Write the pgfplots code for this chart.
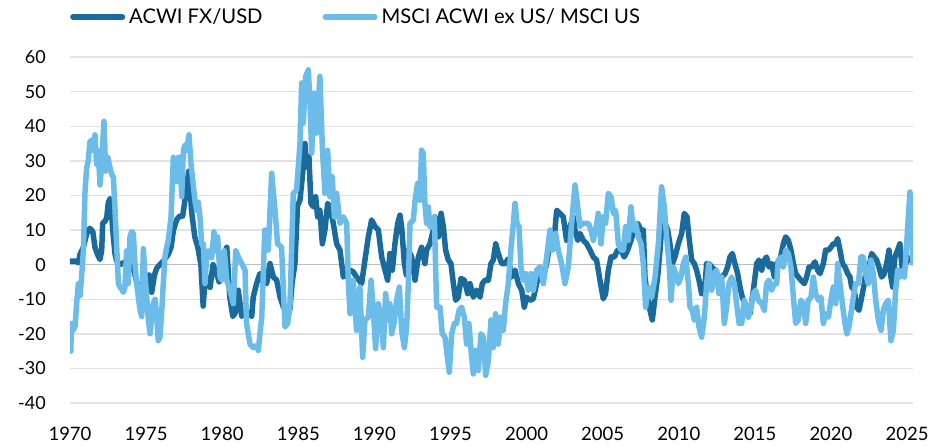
\documentclass[border=0pt]{standalone}
\usepackage{fontspec}
\setmainfont{Lato}
\usepackage{pgfplots}
\pgfplotsset{compat=1.18}
\definecolor{darkb}{HTML}{1A6B9B}
\definecolor{lightb}{HTML}{6CBCE9}
\definecolor{gridc}{HTML}{E3E3E3}
\definecolor{zeroc}{HTML}{BDBDBD}
\begin{document}
\begin{tikzpicture}
\path[use as bounding box] (-70pt,-44pt) rectangle (881pt,403pt);
\begin{axis}[
 scale only axis, width=843pt, height=346pt,
 xmin=1970, xmax=2025.39, ymin=-40, ymax=60,
 xtick={1970,1975,...,2025}, ytick={-40,-30,...,60},
 axis line style={draw=none}, major tick length=0pt,
 ymajorgrids, major grid style={gridc, line width=1.4pt},
 extra y ticks={0}, extra y tick labels={},
 extra y tick style={major grid style={zeroc, line width=1.6pt}},
 /pgf/number format/assume math mode=true,
 /pgf/number format/1000 sep={},
 x tick label style={font=\fontsize{18.5}{20}\selectfont, inner sep=0pt, anchor=north, yshift=-24pt},
 y tick label style={font=\fontsize{18}{20}\selectfont, inner sep=0pt, anchor=east, xshift=-24pt},
 legend columns=2,
 legend style={draw=none, fill=none, at={(0,1)}, anchor=west, yshift=40pt, inner sep=0pt,
   nodes={inner sep=0pt, anchor=west}, font=\fontsize{20.2}{22}\selectfont,
   /tikz/every odd column/.append style={column sep=4pt},
   /tikz/every even column/.append style={column sep=60pt}},
 legend image code/.code={\draw[#1, line cap=round] (2.75pt,0pt) -- (52.25pt,0pt);},
]
\addplot[darkb, line width=5.5pt, line join=round] table {
x y
1970.00 1
1970.20 1
1970.44 1
1970.55 0.5
1970.66 3
1970.88 5
1971.10 9
1971.30 10.5
1971.50 9.5
1971.64 5
1971.80 3
1971.97 1.5
1972.08 4
1972.15 12
1972.30 12.5
1972.41 13.5
1972.52 18
1972.63 19
1972.74 14
1972.85 8
1972.96 3
1973.07 1
1973.29 0
1973.50 0.5
1973.72 1
1973.94 0
1974.16 -1
1974.38 -5
1974.60 -8
1974.82 -9
1975.04 -8
1975.20 -3
1975.37 -8
1975.55 -3
1975.70 -1
1975.91 0
1976.13 1
1976.30 2
1976.46 3
1976.64 5
1976.80 10
1977.01 13
1977.20 14
1977.40 14
1977.60 20
1977.80 27
1978.00 15
1978.20 8
1978.40 5
1978.60 0
1978.75 -12
1978.90 -3
1979.20 -6.6
1979.40 0
1979.60 -2
1979.80 -5
1980.10 3
1980.30 5
1980.50 -9.5
1980.70 -15
1980.85 -14
1981.06 -7.4
1981.28 -15
1981.50 -13
1981.72 -14
1981.94 -15
1982.04 -9.4
1982.26 -5.5
1982.48 -2.6
1982.70 -4.5
1982.92 -5.5
1983.14 0.3
1983.36 -3.6
1983.58 -4.5
1983.80 -9.4
1984.02 -12.3
1984.23 -13
1984.45 -13
1984.60 -5
1984.78 0.3
1984.95 17
1985.11 18.6
1985.33 28.3
1985.44 35
1985.55 28.3
1985.70 31.2
1985.83 17.7
1985.99 16.7
1986.14 19.6
1986.27 13.8
1986.42 15.7
1986.58 6
1986.75 10
1986.93 17.7
1987.08 16.7
1987.30 11.9
1987.52 6
1987.74 4.2
1987.96 -3.6
1988.18 -2.6
1988.40 -1.6
1988.61 -2.1
1988.83 -3.6
1989.16 -5.5
1989.38 1.3
1989.60 8
1989.82 12.9
1990.04 11
1990.26 10
1990.48 2.2
1990.70 -1.6
1990.87 -4.5
1991.02 3.2
1991.18 -1.6
1991.35 6
1991.53 11.9
1991.68 14.3
1991.79 11
1991.97 0.3
1992.10 -3
1992.23 4.2
1992.45 2.2
1992.67 -4.5
1992.89 2.2
1993.10 5
1993.32 0.3
1993.43 4.2
1993.65 6
1993.87 10
1993.98 13.8
1994.20 8
1994.38 14.8
1994.53 11
1994.68 4.2
1994.86 1.3
1995.03 0.3
1995.19 -5.5
1995.34 -10.3
1995.51 -9.4
1995.69 -4
1995.91 -4.5
1996.13 -8.4
1996.28 -5.5
1996.50 -9.4
1996.72 -7.4
1996.94 -9.4
1997.09 -5.5
1997.27 -4.5
1997.49 -4.5
1997.66 0.3
1997.81 1.3
1997.97 6
1998.14 3.2
1998.36 0.3
1998.58 0.3
1998.80 1.7
1999.02 -3.6
1999.24 -1.6
1999.46 -5.5
1999.68 -7.4
1999.85 -12.3
2000.00 -9.4
2000.22 -10.3
2000.44 -9.9
2000.66 -5.5
2000.88 -1.6
2001.10 -3.6
2001.32 0.3
2001.54 7
2001.76 5
2001.98 15.7
2002.19 14.8
2002.41 13.8
2002.63 7
2002.85 11
2003.07 13.8
2003.18 10
2003.36 7
2003.51 9
2003.73 7
2003.95 6
2004.17 4.2
2004.38 2.2
2004.60 1.3
2004.82 -4.5
2005.04 -9.9
2005.19 -8.4
2005.37 -1.6
2005.55 2.2
2005.77 2.2
2005.98 4.2
2006.20 4.2
2006.42 2.2
2006.64 4.2
2006.86 7
2007.08 10
2007.30 11.9
2007.52 10
2007.67 10
2007.78 -3.6
2007.95 -9.4
2008.11 -13.2
2008.26 -16
2008.44 -9.4
2008.61 -3.6
2008.77 4.2
2008.92 13.8
2009.09 11.9
2009.27 10
2009.42 6
2009.58 0.3
2009.75 2.2
2009.97 6
2010.19 9
2010.36 14.8
2010.54 13.8
2010.67 8
2010.85 1.3
2011.02 0.3
2011.17 -1.6
2011.33 -4.5
2011.50 -8.4
2011.68 -8.4
2011.83 0.3
2011.98 0.3
2012.16 -0.7
2012.38 -1.6
2012.60 -3.6
2012.82 -3.6
2013.04 -2.6
2013.21 -0.7
2013.36 2.2
2013.52 3.2
2013.69 0.3
2013.87 -2.6
2014.02 -6.5
2014.17 -9.4
2014.35 -11.3
2014.50 -12.5
2014.68 -14.2
2014.90 -7.4
2015.12 0.3
2015.27 1.3
2015.45 -1.6
2015.62 1.3
2015.77 2.2
2015.93 -0.7
2016.10 0.3
2016.28 -3.6
2016.43 0.3
2016.65 1.3
2016.87 6
2017.02 8
2017.20 7
2017.37 4.2
2017.53 0.3
2017.68 -2.6
2017.85 -3.6
2018.03 -4.5
2018.25 -5.5
2018.40 -3.6
2018.56 -0.7
2018.73 -0.7
2018.95 0.8
2019.12 -1.6
2019.28 -2.6
2019.50 0.3
2019.65 4.2
2019.83 4.2
2020.00 5
2020.15 6
2020.31 6
2020.44 7.5
2020.59 4.2
2020.75 0.3
2020.92 -0.7
2021.10 -2.6
2021.25 -3.6
2021.36 -6.5
2021.53 -7.4
2021.69 -12.3
2021.84 -13.2
2022.02 -9.4
2022.19 -5.5
2022.34 -0.7
2022.50 -0.7
2022.67 3.2
2022.85 2.2
2023.00 1.3
2023.15 -0.7
2023.33 -3.6
2023.50 -2.6
2023.66 0.3
2023.81 4.2
2023.94 -3.6
2024.05 -6.5
2024.20 2.2
2024.38 4.2
2024.53 6
2024.69 -1.6
2024.82 -1.6
2024.91 0.3
2025.10 2
2025.30 1
};
\addplot[lightb, line width=5.5pt, line join=round] table {
x y
1970.00 -17
1970.05 -25
1970.10 -17
1970.20 -19
1970.33 -18
1970.44 -11
1970.55 -5.5
1970.66 -9
1970.77 -3
1970.88 4
1970.99 21.5
1971.10 28
1971.20 30
1971.31 35.5
1971.42 36
1971.53 33
1971.64 37.5
1971.75 29
1971.86 33
1971.97 23
1972.08 29
1972.23 41.4
1972.34 27
1972.48 31
1972.63 28
1972.74 26
1972.85 25.4
1972.96 15.7
1973.07 5
1973.18 -5.5
1973.29 -6.5
1973.39 -7
1973.50 -8
1973.61 -6.5
1973.72 4
1973.83 -5.5
1973.94 8
1974.05 9.5
1974.16 9
1974.27 0.3
1974.38 -5.5
1974.49 -9.4
1974.60 -13
1974.71 -15
1974.82 4.6
1974.93 -3.6
1975.04 -9.4
1975.15 -16
1975.26 -20
1975.37 -15
1975.48 -11
1975.59 -10
1975.70 -15
1975.80 -22
1975.91 -21
1976.02 -14
1976.13 -5.5
1976.24 2.2
1976.35 5
1976.46 7
1976.64 13.8
1976.79 31
1976.90 30
1977.01 24
1977.12 31
1977.23 31
1977.34 19.6
1977.45 33
1977.56 34.6
1977.67 33
1977.82 37.5
1977.95 29
1978.10 23
1978.21 18.6
1978.32 15.7
1978.43 18
1978.54 13.8
1978.65 6
1978.76 6
1978.87 -5.5
1978.98 2.2
1979.09 4
1979.31 2
1979.46 9.5
1979.57 4
1979.70 8
1979.86 -3.6
1979.97 -4.5
1980.14 4
1980.30 -4.5
1980.51 -7.4
1980.73 -11.3
1980.89 4
1981.06 2.2
1981.28 0.3
1981.50 -1.6
1981.60 -17
1981.83 -23
1982.04 -24
1982.26 -23.4
1982.37 -24.8
1982.60 -15
1982.80 10
1983.03 4.2
1983.25 26.4
1983.47 15.7
1983.64 6
1983.90 5
1984.13 -18
1984.30 -17
1984.45 -12.3
1984.67 20.6
1984.89 21.5
1985.11 35
1985.22 52.5
1985.33 40.9
1985.48 54.4
1985.66 56.3
1985.77 46.7
1985.88 32.2
1986.05 49.6
1986.20 38
1986.42 54.4
1986.58 34
1986.75 20.6
1986.93 33
1987.08 19.6
1987.23 25.4
1987.37 13.8
1987.52 20.6
1987.74 11.9
1987.96 13.8
1988.18 11.9
1988.29 -5.5
1988.40 -14.2
1988.61 -4.5
1988.83 -19
1989.05 -6.5
1989.23 -26.8
1989.38 -16
1989.60 -15.2
1989.78 -4.5
1989.93 -13.2
1990.08 -24.3
1990.26 -11.3
1990.43 -15.2
1990.59 -24
1990.74 -8.4
1990.87 -16
1991.02 -11.3
1991.13 -20
1991.29 -17
1991.46 -10.3
1991.64 -6.5
1991.79 -19
1991.97 -24
1992.12 -18
1992.23 -5.5
1992.34 11.9
1992.56 12.9
1992.67 18.6
1992.84 23.5
1992.99 18.6
1993.10 33.1
1993.21 32.2
1993.32 17.7
1993.43 11.9
1993.54 16.7
1993.65 11
1993.76 11
1993.94 13.8
1994.09 -12.3
1994.31 -12.3
1994.46 -20
1994.64 -21
1994.92 -31.1
1995.08 -20
1995.25 -17
1995.40 -17
1995.56 -13.2
1995.73 -12.3
1995.91 -15.2
1996.06 -23
1996.21 -17
1996.35 -24.8
1996.50 -31.6
1996.65 -24.8
1996.83 -30.6
1997.00 -20
1997.16 -21
1997.31 -32
1997.49 -27.7
1997.66 -16
1997.81 -24
1997.97 -14.2
1998.14 -23
1998.32 -15.2
1998.47 -19
1998.62 -11.3
1998.80 -5.5
1998.97 4.2
1999.13 11.9
1999.24 17.7
1999.37 11.9
1999.50 11
1999.63 -0.7
1999.78 -4.5
1999.94 -2.6
2000.11 -7.4
2000.29 -2.6
2000.44 -7.4
2000.66 -1.6
2000.88 -0.7
2001.10 -5.5
2001.32 2.2
2001.54 10
2001.71 4.2
2001.91 9
2002.08 4.2
2002.30 0.3
2002.52 -5.5
2002.74 -0.7
2002.96 11.9
2003.18 23
2003.36 16.7
2003.51 11
2003.66 11.9
2003.84 11.9
2004.06 11.9
2004.23 10
2004.38 7
2004.54 10
2004.71 14.8
2004.89 6
2005.04 13.8
2005.19 11.9
2005.37 20.6
2005.55 19.6
2005.70 14.8
2005.85 15.7
2006.03 6
2006.20 4.2
2006.36 4.2
2006.51 11
2006.68 7
2006.86 16.7
2007.01 10
2007.17 11.9
2007.34 8
2007.52 6
2007.67 0.3
2007.82 -12.3
2008.00 -6.5
2008.22 -9.4
2008.44 -3.6
2008.66 6
2008.87 22.5
2009.05 16.7
2009.20 8
2009.38 -0.7
2009.49 -10.3
2009.64 -0.7
2009.79 -2.6
2009.97 -5.5
2010.14 -3.6
2010.30 0.3
2010.45 2.2
2010.63 -5.5
2010.74 -12.3
2010.89 -13.2
2011.02 -16
2011.17 -12.3
2011.33 -18
2011.50 -21
2011.68 -15.2
2011.83 -5.5
2011.98 0.3
2012.16 -7.4
2012.33 -2.6
2012.49 -1.6
2012.64 -8.4
2012.82 -3.6
2012.99 -17
2013.14 -12.3
2013.30 -5.5
2013.47 -3.6
2013.65 -5.5
2013.80 -11.3
2013.96 -17
2014.13 -17
2014.31 -10.3
2014.48 -13.2
2014.57 -15.2
2014.74 -12.3
2014.90 -8.4
2015.05 -7.4
2015.23 -10.3
2015.45 -11.3
2015.62 -13.2
2015.77 -5.5
2015.93 -4.5
2016.10 -7.4
2016.28 -5.5
2016.43 -5.5
2016.54 1.3
2016.72 2.2
2016.87 -0.7
2017.02 4.2
2017.20 3.2
2017.37 -0.7
2017.53 -9.4
2017.68 -17
2017.85 -16
2018.03 -10.3
2018.18 -11.3
2018.34 -17
2018.51 -10.3
2018.69 -9.4
2018.84 -3.6
2018.99 -8.4
2019.17 -10.3
2019.34 -9.4
2019.50 -17
2019.65 -14.2
2019.83 -15.2
2020.00 -10.3
2020.15 -6.5
2020.31 -11.3
2020.44 0.3
2020.59 -5.5
2020.75 -11.3
2020.92 -17
2021.05 -20
2021.18 -18
2021.31 -14.2
2021.47 -9.4
2021.62 -5.5
2021.80 -5.5
2021.97 2.2
2022.12 2.2
2022.28 -2.6
2022.45 -5.5
2022.63 1.3
2022.78 -2.6
2022.94 -10.3
2023.11 -16
2023.29 -19
2023.44 -13.2
2023.59 -11.3
2023.77 -10.3
2023.94 -22
2024.10 -19
2024.25 -7.4
2024.38 -1.6
2024.53 -3.6
2024.69 -1.6
2024.82 -3.6
2024.91 1.3
2025.04 11
2025.19 21
2025.30 11
2025.39 -0.2
};
\legend{ACWI FX/USD, MSCI ACWI ex US/ MSCI US}
\end{axis}
\end{tikzpicture}
\end{document}
